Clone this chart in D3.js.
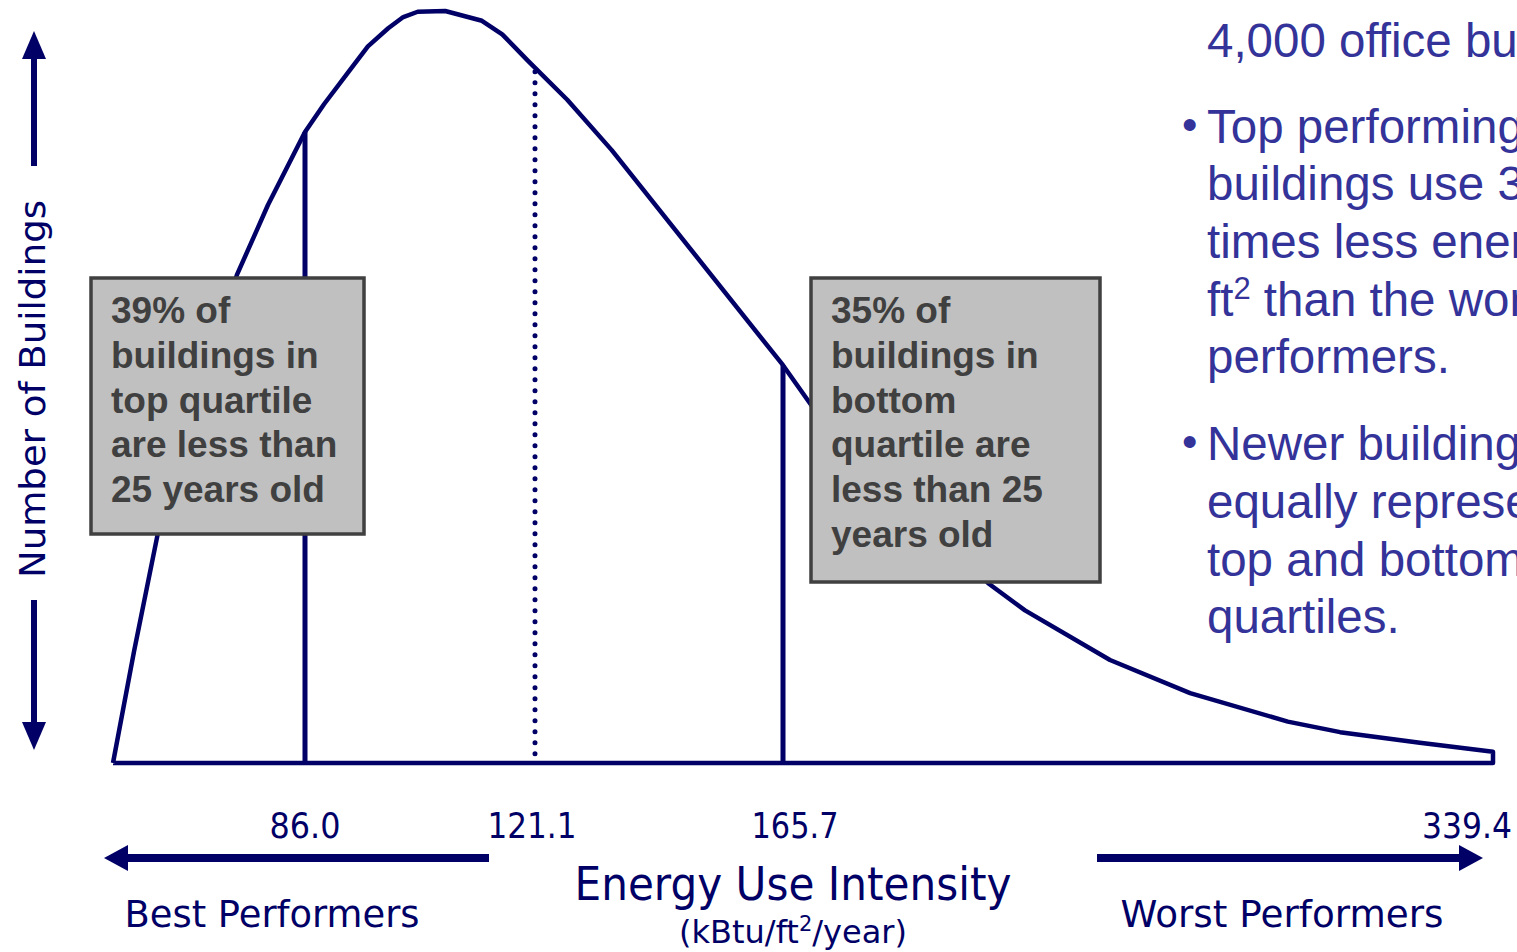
<!DOCTYPE html>
<html lang="en">
    <head>
        <meta charset="utf-8">
        <title>Energy Use Intensity distribution</title>
        <script src="https://d3js.org/d3.v7.min.js"></script>
        <style>
            body { margin: 0; background: #fff; }
            svg { display: block; }
        </style>
    </head>
    <body>
        <div id="chart"></div>
        <script>
            // EUI (kBtu/ft2/year) along the curve and relative building count (peak = 100)
            var curveEui   = [0, 9.4, 20.2, 55.5, 69.4, 86.0, 88.9, 92.9, 95.6, 98.7, 101.0, 103.2, 107.4,
                              113.0, 116.1, 120.0, 126.9, 134.9, 165.7, 173.5, 215.9, 224.9, 245.7, 265.3,
                              289.2, 302.0, 321.5, 339.4];
            var curveCount = [0, 14.8, 30.7, 64.9, 74.2, 83.9, 87.6, 92.2, 95.3, 97.7, 99.2, 99.9, 100,
                              98.7, 96.9, 93.4, 88.2, 81.5, 52.9, 46.9, 23.9, 20.3, 13.7, 9.3,
                              5.5, 4.1, 2.7, 1.5];

            // quartile markers and axis tick labels
            var tickValues = [86.0, 121.1, 165.7, 339.4];
            var tickLabels = ["86.0", "121.1", "165.7", "339.4"];
            var solidLines = [86.0, 165.7];
            var dottedLines = [121.1];

            var leftNote  = ["39% of", "buildings in", "top quartile", "are less than", "25 years old"];
            var rightNote = ["35% of", "buildings in", "bottom", "quartile are", "less than 25", "years old"];

            var navy = "#000066";
            var W = 1517, H = 952;

            var svg = d3.select("#chart").append("svg")
                .attr("width", W)
                .attr("height", H);

            // the x axis is a schematic: quartile values sit at fixed spots
            var x = d3.scaleLinear()
                .domain([0, 86.0, 121.1, 165.7, 339.4])
                .range([113, 305, 535, 783, 1493]);
            var y = d3.scaleLinear()
                .domain([0, 100])
                .range([763, 11]);

            var curve = curveEui.map(function(d, i){ return {eui: d, count: curveCount[i]}; });

            function countAt(v){
                for (var i = 1; i < curve.length; i++){
                    if (v <= curve[i].eui){
                        var a = curve[i-1], b = curve[i];
                        var t = (v - a.eui) / (b.eui - a.eui);
                        return a.count + t * (b.count - a.count);
                    }
                }
                return curve[curve.length-1].count;
            }

            var curveLine = d3.line()
                .x(function(d){ return x(d.eui); })
                .y(function(d){ return y(d.count); });

            // outline goes back along the baseline
            var outline = curve.concat([{eui: 339.4, count: 0}, {eui: 0, count: 0}]);

            svg.append("path")
                .attr("d", curveLine(outline))
                .attr("fill", "none")
                .attr("stroke", navy)
                .attr("stroke-width", 4.5)
                .attr("stroke-linejoin", "round");

            // quartile lines
            svg.selectAll(".qline")
                .data(solidLines)
                .enter().append("line")
                .attr("x1", function(d){ return x(d); })
                .attr("x2", function(d){ return x(d); })
                .attr("y1", y(0))
                .attr("y2", function(d){ return y(countAt(d)); })
                .attr("stroke", navy)
                .attr("stroke-width", 5);

            svg.selectAll(".median")
                .data(dottedLines)
                .enter().append("line")
                .attr("x1", function(d){ return x(d); })
                .attr("x2", function(d){ return x(d); })
                .attr("y1", function(d){ return y(countAt(d)) + 5; })
                .attr("y2", y(0) - 3)
                .attr("stroke", navy)
                .attr("stroke-width", 5)
                .attr("stroke-linecap", "round")
                .attr("stroke-dasharray", "0 11");

            // note boxes
            function noteBox(x0, y0, w, h, lines){
                var g = svg.append("g");
                g.append("rect")
                    .attr("x", x0).attr("y", y0)
                    .attr("width", w).attr("height", h)
                    .attr("fill", "#c0c0c0")
                    .attr("stroke", "#404040")
                    .attr("stroke-width", 3.5);
                g.selectAll("text")
                    .data(lines)
                    .enter().append("text")
                    .attr("x", x0 + 20)
                    .attr("y", function(d, i){ return y0 + 45 + i * 44.8; })
                    .attr("font-family", "'Liberation Sans', Arial, sans-serif")
                    .attr("font-weight", "bold")
                    .attr("font-size", 37)
                    .attr("fill", "#404040")
                    .text(function(d){ return d; });
            }
            noteBox(91, 278, 273, 256, leftNote);
            noteBox(811, 278, 289, 304, rightNote);

            // tick labels under the curve
            var tickDx = [0, -3, 12, -26];
            svg.selectAll(".tick")
                .data(tickValues)
                .enter().append("text")
                .attr("x", function(d, i){ return x(d) + tickDx[i]; })
                .attr("y", 838)
                .attr("text-anchor", "middle")
                .attr("font-family", "Tahoma, 'DejaVu Sans', sans-serif")
                .attr("font-size", 36)
                .attr("fill", navy)
                .attr("textLength", function(d, i){ return [71, 89, 87, 90][i]; })
                .attr("lengthAdjust", "spacingAndGlyphs")
                .text(function(d, i){ return tickLabels[i]; });

            // bottom labels
            function label(txt, cx, cy, size, len){
                return svg.append("text")
                    .attr("x", cx).attr("y", cy)
                    .attr("text-anchor", "middle")
                    .attr("font-family", "Tahoma, 'DejaVu Sans', sans-serif")
                    .attr("font-size", size)
                    .attr("fill", navy)
                    .attr("textLength", len)
                    .attr("lengthAdjust", "spacingAndGlyphs")
                    .text(txt);
            }
            label("Best Performers", 272, 927, 38, 295);
            label("Energy Use Intensity", 793, 900, 46, 437);
            label("Worst Performers", 1282, 927, 38, 323);

            var unit = svg.append("text")
                .attr("x", 793).attr("y", 943)
                .attr("text-anchor", "middle")
                .attr("font-family", "Tahoma, 'DejaVu Sans', sans-serif")
                .attr("font-size", 32)
                .attr("fill", navy);
            unit.append("tspan").text("(kBtu/ft");
            unit.append("tspan").attr("font-size", 21).attr("dy", -12).text("2");
            unit.append("tspan").attr("dy", 12).text("/year)");

            // y axis label and arrows
            svg.append("text")
                .attr("transform", "translate(45,389) rotate(-90)")
                .attr("text-anchor", "middle")
                .attr("font-family", "Tahoma, 'DejaVu Sans', sans-serif")
                .attr("font-size", 36)
                .attr("fill", navy)
                .attr("textLength", 378)
                .attr("lengthAdjust", "spacingAndGlyphs")
                .text("Number of Buildings");

            function arrow(x1, y1, x2, y2, thick, headLen, headHalf){
                var ang = Math.atan2(y2 - y1, x2 - x1);
                var bx = x2 - headLen * Math.cos(ang), by = y2 - headLen * Math.sin(ang);
                svg.append("line")
                    .attr("x1", x1).attr("y1", y1)
                    .attr("x2", bx).attr("y2", by)
                    .attr("stroke", navy)
                    .attr("stroke-width", thick);
                var px = -Math.sin(ang) * headHalf, py = Math.cos(ang) * headHalf;
                svg.append("path")
                    .attr("d", "M" + x2 + "," + y2 + "L" + (bx + px) + "," + (by + py) + "L" + (bx - px) + "," + (by - py) + "Z")
                    .attr("fill", navy);
            }
            arrow(34, 166, 34, 31, 6, 28, 12);
            arrow(34, 600, 34, 750, 6, 28, 12);
            arrow(489, 858, 104, 858, 8, 24, 13);
            arrow(1097, 858, 1483, 858, 8, 24, 13);

            // bullet text on the right (cut off by the page edge, as on the slide)
            var blue = "#333399";
            var notes = [
                {t: "4,000 office buildings", y: 57, bullet: false},
                {t: "Top performing", y: 143, bullet: true},
                {t: "buildings use 3", y: 200},
                {t: "times less energy per", y: 258},
                {t: "ft|2| than the worst", y: 316},
                {t: "performers.", y: 373},
                {t: "Newer buildings are", y: 460, bullet: true},
                {t: "equally represented in", y: 518},
                {t: "top and bottom", y: 576},
                {t: "quartiles.", y: 633}
            ];
            notes.forEach(function(n){
                var t = svg.append("text")
                    .attr("x", 1207).attr("y", n.y)
                    .attr("font-family", "'Liberation Sans', Arial, sans-serif")
                    .attr("font-size", 47.5)
                    .attr("fill", blue);
                var parts = n.t.split("|");
                parts.forEach(function(p, i){
                    var s = t.append("tspan").text(p);
                    if (i === 1) s.attr("font-size", 31).attr("dy", -17);
                    if (i === 2) s.attr("dy", 17);
                });
                if (n.bullet){
                    svg.append("text")
                        .attr("x", 1182).attr("y", n.y - 3)
                        .attr("font-family", "'Liberation Sans', Arial, sans-serif")
                        .attr("font-size", 44)
                        .attr("fill", blue)
                        .text("\u2022");
                }
            });
        </script>
    </body>
</html>
